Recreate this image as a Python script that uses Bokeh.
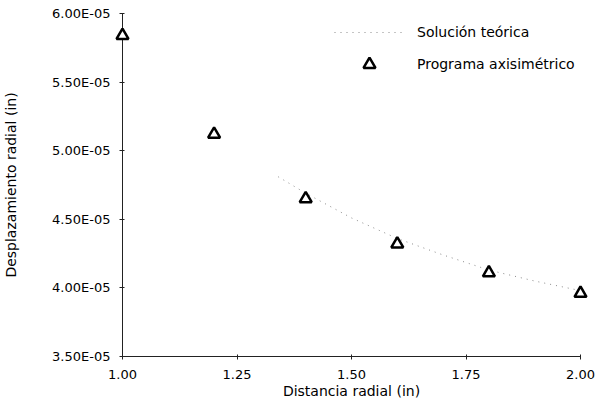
from bokeh.plotting import figure
from bokeh.models import FixedTicker, Legend, LegendItem, Range1d
from bokeh.embed import file_html
from bokeh.resources import INLINE

# ---- data ----
radial_prog = [1.0, 1.2, 1.4, 1.6, 1.8, 2.0]
disp_prog = [5.84e-5, 5.12e-5, 4.65e-5, 4.32e-5, 4.11e-5, 3.96e-5]

radial_theory = [1.34, 1.4, 1.5, 1.6, 1.7, 1.8, 1.9, 2.0]
disp_theory = [4.81e-5, 4.69e-5, 4.51e-5, 4.36e-5, 4.24e-5, 4.13e-5, 4.05e-5, 3.98e-5]

x_ticks = [1.0, 1.25, 1.5, 1.75, 2.0]
x_tick_labels = ["1.00", "1.25", "1.50", "1.75", "2.00"]
y_ticks = [3.5e-5, 4.0e-5, 4.5e-5, 5.0e-5, 5.5e-5, 6.0e-5]
y_tick_labels = ["3.50E-05", "4.00E-05", "4.50E-05", "5.00E-05", "5.50E-05", "6.00E-05"]

series_names = ["Solución teórica", "Programa axisimétrico"]
x_title = "Distancia radial (in)"
y_title = "Desplazamiento radial (in)"

FONT = "DejaVu Sans"

p = figure(width=599, height=401, output_backend="svg", toolbar_location=None,
           x_range=Range1d(1.0, 2.0), y_range=Range1d(3.5e-5, 6.0e-5),
           min_border_left=120, min_border_right=19, min_border_top=13,
           min_border_bottom=44)
p.outline_line_color = None
p.xgrid.grid_line_color = None
p.ygrid.grid_line_color = None
p.background_fill_color = "white"
p.border_fill_color = "white"

theory = p.line(radial_theory, disp_theory, line_color="#8a8a8a", line_width=1,
                line_dash="1 5")
prog = p.scatter(radial_prog, disp_prog, marker="triangle", size=12,
                 line_color="black", line_width=2.5, fill_color="white",
                 level="overlay")

for ax in (p.xaxis[0], p.yaxis[0]):
    ax.axis_line_color = "#222222"
    ax.axis_line_width = 1
    ax.major_tick_line_color = "#222222"
    ax.major_tick_in = 2
    ax.major_tick_out = 3
    ax.minor_tick_line_color = None
    ax.major_label_text_font = FONT
    ax.major_label_text_font_size = "13px"
    ax.major_label_text_color = "black"
    ax.axis_label_text_font = FONT
    ax.axis_label_text_font_size = "14px"
    ax.axis_label_text_font_style = "normal"
    ax.axis_label_text_color = "black"

p.xaxis.ticker = FixedTicker(ticks=x_ticks)
p.xaxis.major_label_overrides = dict(zip(x_ticks, x_tick_labels))
p.xaxis.axis_label = x_title
p.xaxis.major_label_standoff = 10
p.xaxis.axis_label_standoff = 1

p.yaxis.ticker = FixedTicker(ticks=y_ticks)
p.yaxis.major_label_overrides = dict(zip(y_ticks, y_tick_labels))
p.yaxis.axis_label = y_title
p.yaxis.major_label_standoff = 9
p.yaxis.axis_label_standoff = 30

legend = Legend(items=[LegendItem(label=series_names[0], renderers=[theory]),
                       LegendItem(label=series_names[1], renderers=[prog])],
                location=(212, 277), glyph_width=70, glyph_height=30,
                label_height=30, spacing=2, label_standoff=13, padding=0,
                border_line_color=None, background_fill_alpha=0,
                label_text_font=FONT, label_text_font_size="14px",
                label_text_color="black")
p.add_layout(legend)

open("out.html", "w").write(file_html(p, INLINE))
